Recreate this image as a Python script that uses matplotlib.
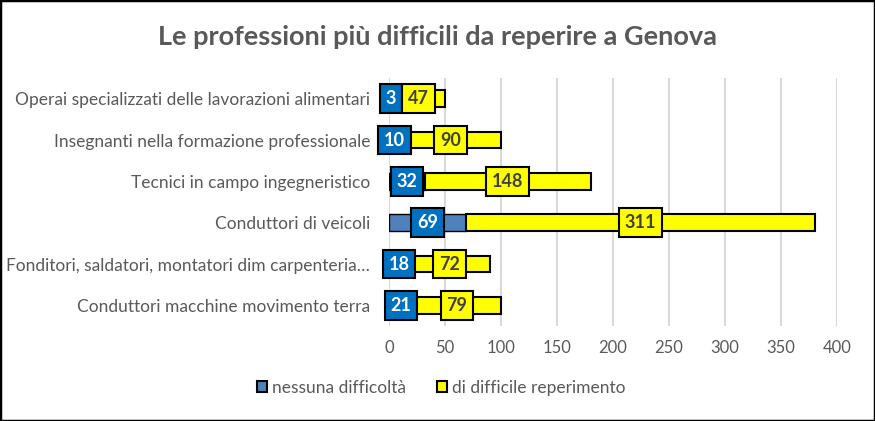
import matplotlib
matplotlib.use("Agg")
import matplotlib.pyplot as plt
from matplotlib.patches import Rectangle, Patch

categories = [
    "Operai specializzati delle lavorazioni alimentari",
    "Insegnanti nella formazione professionale",
    "Tecnici in campo ingegneristico",
    "Conduttori di veicoli",
    "Fonditori, saldatori, montatori dim carpenteria…",
    "Conduttori macchine movimento terra",
]
nessuna = [3, 10, 32, 69, 18, 21]
difficile = [47, 90, 148, 311, 72, 79]
series_names = ["nessuna difficoltà", "di difficile reperimento"]
xticks = [0, 50, 100, 150, 200, 250, 300, 350, 400]

plt.rcParams['font.family'] = ['Lato', 'DejaVu Sans']
GRAY = '#595959'
BLUE_BAR = '#4F81BD'
BLUE_LBL = '#0070C0'
YELLOW = '#FFFF00'

fig = plt.figure(figsize=(8.75, 4.21), dpi=100)
W, H = 875, 421
ax = fig.add_axes([389 / W, 1 - 326 / H, (837 - 389) / W, (326 - 78) / H])

y = list(range(len(categories)))
bh = 0.4
ax.barh(y, nessuna, height=bh, color=BLUE_BAR, edgecolor='black', linewidth=1.0, zorder=3)
ax.barh(y, difficile, left=nessuna, height=bh, color=YELLOW, edgecolor='black', linewidth=1.5, zorder=3)

for i in y:
    ax.text(nessuna[i] / 2, i, str(nessuna[i]), ha='center', va='center', fontsize=13,
            fontweight='bold', color='white', zorder=5, clip_on=False,
            bbox=dict(boxstyle='square,pad=0.32', fc=BLUE_LBL, ec='black', lw=1.5))
    ax.text(nessuna[i] + difficile[i] / 2, i, str(difficile[i]), ha='center', va='center',
            fontsize=13, fontweight='bold', color='#404040', zorder=5, clip_on=False,
            bbox=dict(boxstyle='square,pad=0.32', fc=YELLOW, ec='black', lw=1.5))

ax.set_xlim(0, 400)
ax.set_ylim(len(categories) - 0.5, -0.5)
ax.set_xticks(xticks)
ax.set_xticklabels([str(t) for t in xticks])
ax.set_yticks(y)
ax.set_yticklabels(categories, fontsize=12.5)
ax.tick_params(axis='both', length=0, labelcolor=GRAY)
ax.tick_params(axis='x', labelsize=12, pad=10)
ax.tick_params(axis='y', pad=13.5)
ax.grid(axis='x', color='#D9D9D9', linewidth=1.5, zorder=0)
ax.set_axisbelow(True)
for s in ax.spines.values():
    s.set_visible(False)

fig.text(437 / W, 1 - 37 / H, "Le professioni più difficili da reperire a Genova",
         ha='center', va='center', fontsize=19.5, fontweight='bold', color=GRAY)

handles = [Patch(facecolor=BLUE_BAR, edgecolor='black', linewidth=1.5),
           Patch(facecolor=YELLOW, edgecolor='black', linewidth=1.5)]
fig.legend(handles, series_names, loc='center', bbox_to_anchor=(441 / W, 1 - 388 / H),
           ncol=2, frameon=False, fontsize=12.5, labelcolor=GRAY, handlelength=0.6,
           handleheight=0.6, handletextpad=0.25, columnspacing=1.8)

fig.patches.append(Rectangle((0, 0), 1, 1, transform=fig.transFigure, fill=False,
                             edgecolor='black', linewidth=2.5, zorder=10))

fig.savefig("out.png", dpi=100)
